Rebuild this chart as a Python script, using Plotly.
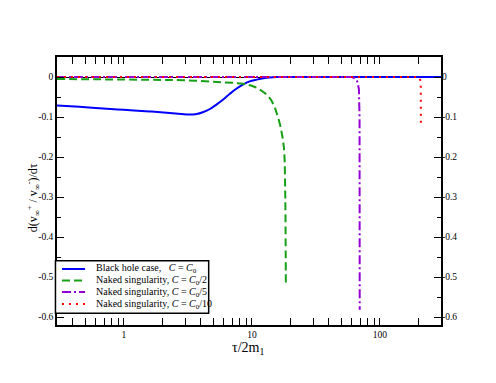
import plotly.graph_objects as go

# curves (tau/2m1, d(v+/v-)/dtau)
bh_x = [0.3, 0.45, 0.643, 1.0, 1.585, 2.28, 2.8, 3.26, 3.7, 4.13, 4.7, 5.28, 5.93, 6.72, 7.5, 8.5, 9.6, 10.9, 12.3, 13.8, 15.6, 30, 100, 300]
bh_y = [-0.071, -0.0745, -0.078, -0.082, -0.086, -0.090, -0.0925, -0.094, -0.0925, -0.088, -0.080, -0.069, -0.057, -0.042, -0.030, -0.019, -0.011, -0.0065, -0.003, -0.001, 0.0, 0.0, 0.0, 0.0]

ns2_x = [0.3, 1.585, 2.88, 5.28, 8.5, 10.2, 11.6, 12.8, 13.8, 14.8, 15.6, 16.6, 17.1, 17.6, 17.9, 18.2, 18.4]
ns2_y = [-0.005, -0.007, -0.008, -0.0125, -0.017, -0.023, -0.032, -0.042, -0.053, -0.07, -0.09, -0.12, -0.14, -0.165, -0.19, -0.29, -0.515]

ns5_x = [0.3, 60, 63.5, 66.5, 68.5, 69.3, 69.5]
ns5_y = [0.0, 0.0, -0.003, -0.011, -0.03, -0.1, -0.582]

ns10_x = [0.3, 200, 205, 208.5, 209]
ns10_y = [0.0, 0.0, -0.003, -0.015, -0.115]

names = [
    "Black hole case,   <i>C</i> = <i>C</i><sub>0</sub>",
    "Naked singularity, <i>C</i> = <i>C</i><sub>0</sub>/2",
    "Naked singularity, <i>C</i> = <i>C</i><sub>0</sub>/5",
    "Naked singularity, <i>C</i> = <i>C</i><sub>0</sub>/10",
]
colors = ["#0000ff", "#16a016", "#9400d3", "#ff0000"]
dashes = ["solid", "8px,4px", "9px,3px,2px,3px", "2px,5px"]

x_ticks = [1, 10, 100]
x_ticktext = ["1", "10", "100"]
x_minor = [0.3, 0.4, 0.5, 0.6, 0.7, 0.8, 0.9, 2, 3, 4, 5, 6, 7, 8, 9,
           20, 30, 40, 50, 60, 70, 80, 90, 200, 300]
y_ticks = [0, -0.1, -0.2, -0.3, -0.4, -0.5, -0.6]
y_ticktext = ["0", "-0.1", "-0.2", "-0.3", "-0.4", "-0.5", "-0.6"]
y_minor = [0.05, -0.05, -0.15, -0.25, -0.35, -0.45, -0.55]

SERIF = "Liberation Serif"

fig = go.Figure()
series = [(bh_x, bh_y), (ns2_x, ns2_y), (ns5_x, ns5_y), (ns10_x, ns10_y)]
for i, (xs, ys) in enumerate(series):
    shape = "spline" if i < 2 else "linear"
    fig.add_trace(go.Scatter(x=xs, y=ys, mode="lines", name=names[i], showlegend=False,
                             line=dict(color=colors[i], width=2, dash=dashes[i], shape=shape)))
# dummy trace so the right-hand axis gets drawn
fig.add_trace(go.Scatter(x=[1], y=[0], yaxis="y2", mode="lines", showlegend=False, hoverinfo="skip"))

# hand-made legend (compact, like the original)
fig.add_shape(type="rect", xref="paper", yref="paper", x0=-0.004, x1=0.395, y0=0.044, y1=0.240,
              line=dict(color="black", width=1.5), fillcolor="white", layer="above")
row_y = [0.209, 0.166, 0.123, 0.078]
for i in range(4):
    fig.add_shape(type="line", xref="paper", yref="paper", x0=0.013, x1=0.073, y0=row_y[i], y1=row_y[i],
                  line=dict(color=colors[i], width=2, dash=dashes[i]), layer="above")
    fig.add_annotation(text=names[i], xref="paper", yref="paper", x=0.0956, y=row_y[i],
                       xanchor="left", yanchor="middle", showarrow=False,
                       font=dict(family=SERIF, size=10, color="black"))

# axis titles
fig.add_annotation(text="τ/2m<sub>1</sub>", xref="paper", yref="paper", x=0.497, y=-0.086,
                   xanchor="center", yanchor="middle", showarrow=False, font=dict(family=SERIF, size=14))
fig.add_annotation(text="d(v<sub>∞</sub><sup>+</sup> / v<sub>∞</sub><sup>-</sup>)/dτ", xref="paper", yref="paper",
                   x=-0.059, y=0.474, textangle=-90, xanchor="center", yanchor="middle", showarrow=False,
                   font=dict(family=SERIF, size=12))

# the page body adds an 8px offset, so the figure is 8px smaller on each side
fig.update_layout(
    width=488, height=375,
    margin=dict(l=49, r=55, t=49, b=58),
    paper_bgcolor="white", plot_bgcolor="white",
    font=dict(family=SERIF, size=9.5, color="black"),
    showlegend=False, hovermode=False,
    xaxis=dict(type="log", range=[-0.5229, 2.4771], showgrid=False, zeroline=False, automargin=False,
               showline=True, linecolor="black", linewidth=1.5, mirror="allticks",
               ticks="inside", ticklen=7, tickwidth=1, tickcolor="black",
               tickvals=x_ticks, ticktext=x_ticktext,
               minor=dict(tickvals=x_minor, ticks="inside", ticklen=4, tickcolor="black", tickwidth=1)),
    yaxis=dict(range=[-0.62, 0.05], showgrid=False, zeroline=True, zerolinecolor="black", zerolinewidth=1,
               automargin=False, showline=True, linecolor="black", linewidth=1.5, mirror=True,
               ticks="inside", ticklen=7, tickwidth=1, tickcolor="black",
               tickvals=y_ticks, ticktext=y_ticktext,
               minor=dict(tickvals=y_minor, ticks="inside", ticklen=4, tickcolor="black", tickwidth=1)),
    yaxis2=dict(range=[-0.62, 0.05], overlaying="y", side="right", showgrid=False, zeroline=False,
                automargin=False, showline=False, ticks="inside", ticklen=7, tickwidth=1, tickcolor="black",
                tickvals=y_ticks, ticktext=y_ticktext,
                minor=dict(tickvals=y_minor, ticks="inside", ticklen=4, tickcolor="black", tickwidth=1)),
)

fig.write_html("out.html")
